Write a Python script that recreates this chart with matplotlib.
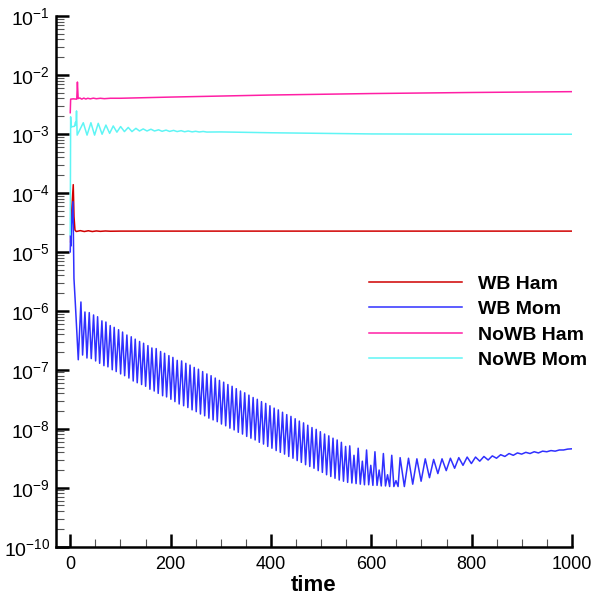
import matplotlib
matplotlib.use("Agg")
import matplotlib.pyplot as plt
import numpy as np
from matplotlib.ticker import LogLocator, MultipleLocator, NullFormatter

plt.rcParams['font.family'] = ['Liberation Sans', 'DejaVu Sans']
plt.rcParams['mathtext.fontset'] = 'custom'
plt.rcParams['mathtext.rm'] = 'Liberation Sans'
plt.rcParams['mathtext.it'] = 'Liberation Sans:italic'
plt.rcParams['mathtext.bf'] = 'Liberation Sans:bold'

# values are log10 of the residual

# WB Ham (red)
wb_ham_t = [0.7, 1.5, 3.0, 6.0, 7.5, 9.4, 12, 20, 28, 36, 44, 52, 60, 70, 80, 100, 300, 600, 1000]
wb_ham_e = [-4.83, -4.6, -4.3, -3.86, -4.4, -4.63, -4.655, -4.64, -4.655, -4.642, -4.655, -4.645,
            -4.652, -4.646, -4.65, -4.648, -4.648, -4.648, -4.648]

# WB Mom (blue): start, local maxima, local minima
wb_mom_start_t = [0.0, 0.6, 1.5, 2.5, 4.0, 5.4, 7.4, 10.0, 13.0]
wb_mom_start_e = [-5.0, -4.72, -4.9, -4.55, -4.35, -4.15, -5.45, -5.85, -6.35]

wb_mom_peak_t = [21.3, 29.3, 37.9, 46.5, 54.5, 63.1, 71.1, 79.7, 87.6, 96.3, 104.3, 112.9, 121.6,
                 129.5, 138.2, 146.2, 154.8, 162.7, 171.3, 180.1, 188.0, 196.6, 204.6, 213.2, 222.0,
                 230.4, 238.8, 247.1, 255.5, 263.9, 272.3, 280.7, 289.0, 297.4, 305.8, 314.2, 322.6,
                 330.9, 339.3, 347.7, 356.1, 364.5, 372.8, 381.2, 389.6, 398.0, 406.4, 414.7, 423.1,
                 431.5, 439.9, 448.3, 456.6, 465.0, 473.4, 481.8, 490.2, 498.5, 506.9, 515.3, 523.7,
                 532.0, 540.4, 548.8, 557.1, 565.5, 573.9, 582.2, 590.6, 599.0, 607.3, 615.7, 624.1,
                 632.4, 640.8, 649.2, 657.5, 674.2, 690.9, 707.6, 724.3, 741.0, 757.7, 774.4, 791.1,
                 807.8, 824.5, 841.2, 857.9, 874.6, 891.3, 908.0, 924.7, 941.4, 958.1, 974.8, 991.5]
wb_mom_peak_e = [-5.85, -6.02, -6.03, -6.07, -6.10, -6.17, -6.19, -6.25, -6.28, -6.32, -6.36, -6.41,
                 -6.44, -6.48, -6.52, -6.55, -6.59, -6.63, -6.64, -6.69, -6.72, -6.76, -6.79, -6.84,
                 -6.85, -6.89, -6.92, -6.96, -6.99, -7.03, -7.07, -7.10, -7.14, -7.18, -7.21, -7.25,
                 -7.28, -7.32, -7.36, -7.39, -7.43, -7.47, -7.50, -7.54, -7.57, -7.61, -7.65, -7.68,
                 -7.72, -7.76, -7.79, -7.83, -7.87, -7.90, -7.94, -7.98, -8.01, -8.05, -8.09, -8.12,
                 -8.16, -8.19, -8.23, -8.30, -8.29, -8.45, -8.33, -8.55, -8.36, -8.62, -8.39, -8.70,
                 -8.42, -8.78, -8.45, -8.88, -8.49, -8.50, -8.51, -8.51, -8.52, -8.51, -8.50, -8.49,
                 -8.48, -8.48, -8.47, -8.46, -8.44, -8.42, -8.41, -8.40, -8.39, -8.38, -8.37, -8.36,
                 -8.345]

wb_mom_trough_t = [16.0, 24.6, 33.3, 41.9, 50.6, 58.6, 67.1, 75.1, 83.7, 91.6, 100.4, 108.4, 116.9,
                   125.5, 133.5, 142.2, 150.2, 158.8, 167.3, 175.3, 184.1, 192.0, 200.6, 208.6, 217.1,
                   226.0, 234.4, 242.8, 251.1, 259.5, 267.9, 276.3, 284.7, 293.0, 301.4, 309.8, 318.2,
                   326.6, 334.9, 343.3, 351.7, 360.1, 368.5, 376.8, 385.2, 393.6, 402.0, 410.4, 418.7,
                   427.1, 435.5, 443.9, 452.3, 460.6, 469.0, 477.4, 485.8, 494.2, 502.5, 510.9, 519.3,
                   527.7, 536.1, 544.6, 552.9, 561.3, 569.7, 578.1, 586.4, 594.8, 603.2, 611.5, 619.9,
                   628.3, 636.6, 645.0, 653.4, 665.9, 682.6, 699.3, 716.0, 732.7, 749.4, 766.1, 782.8,
                   799.5, 816.2, 832.9, 849.6, 866.3, 883.0, 899.7, 916.4, 933.1, 949.8, 966.5, 983.2,
                   1000.0]
wb_mom_trough_e = [-6.83, -6.75, -6.80, -6.81, -6.85, -6.89, -6.93, -6.95, -7.00, -7.03, -7.07, -7.10,
                   -7.14, -7.19, -7.22, -7.25, -7.28, -7.33, -7.36, -7.40, -7.44, -7.46, -7.50, -7.54,
                   -7.58, -7.61, -7.64, -7.68, -7.71, -7.75, -7.78, -7.82, -7.85, -7.88, -7.92, -7.95,
                   -7.99, -8.02, -8.06, -8.09, -8.13, -8.16, -8.19, -8.23, -8.26, -8.30, -8.33, -8.37,
                   -8.40, -8.43, -8.47, -8.50, -8.54, -8.57, -8.61, -8.64, -8.67, -8.71, -8.74, -8.78,
                   -8.81, -8.84, -8.87, -8.89, -8.91, -8.92, -8.93, -8.94, -8.95, -8.95, -8.96, -8.96,
                   -8.97, -8.97, -8.98, -8.98, -8.98, -8.98, -8.94, -8.89, -8.83, -8.76, -8.71, -8.67,
                   -8.62, -8.59, -8.55, -8.53, -8.50, -8.47, -8.45, -8.43, -8.42, -8.41, -8.39, -8.38,
                   -8.36, -8.34]

# NoWB Ham (magenta)
nowb_ham_t = [0.0, 0.8, 6.0, 13.0, 14.3, 15.8, 19, 23, 27, 31, 35, 40, 46, 52, 60, 68, 80, 100,
              200, 400, 600, 800, 1000]
nowb_ham_e = [-2.64, -2.41, -2.405, -2.41, -2.12, -2.40, -2.39, -2.41, -2.392, -2.408, -2.395, -2.405,
              -2.393, -2.403, -2.395, -2.402, -2.395, -2.395, -2.375, -2.34, -2.315, -2.297, -2.283]

# NoWB Mom (cyan)
nowb_mom_t = [0.0, 0.8, 1.5, 8.5, 10.5, 11.5, 12.5, 13.8, 26.0, 33.5, 41.2, 48.5, 55.8, 63.5, 71.1,
              78.5, 85.7, 93.0, 100.4, 108.0, 115.6, 123.0, 130.9, 138.0, 145.4, 153.0, 160.8, 168.0,
              176, 183, 191, 198, 206, 213, 221, 228, 235, 243, 250, 257, 265, 272, 300, 400, 500,
              600, 800, 1000]
nowb_mom_e = [-4.71, -2.71, -2.88, -2.87, -2.80, -2.85, -2.61, -3.02, -2.81, -3.02, -2.81, -3.02,
              -2.82, -3.005, -2.85, -2.99, -2.865, -2.97, -2.875, -2.96, -2.89, -2.96, -2.905, -2.95,
              -2.915, -2.95, -2.92, -2.95, -2.93, -2.955, -2.935, -2.957, -2.94, -2.96, -2.945, -2.963,
              -2.95, -2.965, -2.955, -2.967, -2.958, -2.968, -2.966, -2.98, -2.99, -3.0, -3.005, -3.005]

labels = ["WB Ham", "WB Mom", "NoWB Ham", "NoWB Mom"]
colors = ["#d00000", "#3030ff", "#ff1fa5", "#5ff5f5"]

mom_t = np.concatenate([wb_mom_start_t, wb_mom_peak_t, wb_mom_trough_t])
mom_e = np.concatenate([wb_mom_start_e, wb_mom_peak_e, wb_mom_trough_e])
order = np.argsort(mom_t)
mom_t = mom_t[order]
mom_e = mom_e[order]

series = [(wb_ham_t, wb_ham_e), (mom_t, mom_e), (nowb_ham_t, nowb_ham_e), (nowb_mom_t, nowb_mom_e)]

fig = plt.figure(figsize=(5.95, 5.95), dpi=100)
ax = fig.add_axes([0.0936, 0.0812, 0.8677, 0.8919])

for (t, e), lab, c in zip(series, labels, colors):
    ax.plot(t, 10.0 ** np.asarray(e), "-", color=c, lw=1.1, label=lab)

ax.set_yscale("log")
ax.set_xlim(-29, 1000)
ax.set_ylim(1e-10, 1e-1)

ax.spines["top"].set_visible(False)
ax.spines["right"].set_visible(False)
ax.spines["left"].set_linewidth(1.8)
ax.spines["bottom"].set_linewidth(1.8)

ax.xaxis.set_major_locator(MultipleLocator(200))
ax.xaxis.set_minor_locator(MultipleLocator(50))
ax.yaxis.set_major_locator(LogLocator(base=10, numticks=20))
ax.yaxis.set_minor_locator(LogLocator(base=10, subs=np.arange(2, 10), numticks=20))
ax.yaxis.set_minor_formatter(NullFormatter())

ax.tick_params(which="major", direction="in", length=9.5, width=1.8, labelsize=13)
ax.tick_params(which="minor", direction="in", length=5.5, width=0.8, color="#555555")
ax.tick_params(axis="x", which="major", pad=7)
ax.tick_params(axis="y", which="major", labelsize=14, pad=4)

ax.set_xlabel("time", fontsize=16, fontweight="bold", labelpad=1)

leg = ax.legend(loc="center left", bbox_to_anchor=(369 / 595, 1 - 322 / 595),
                bbox_transform=fig.transFigure, frameon=False,
                handlelength=4.8, handletextpad=0.82, labelspacing=0.4,
                borderpad=0, borderaxespad=0, prop={"weight": "bold", "size": 14})

fig.savefig("out.png", dpi=100)
